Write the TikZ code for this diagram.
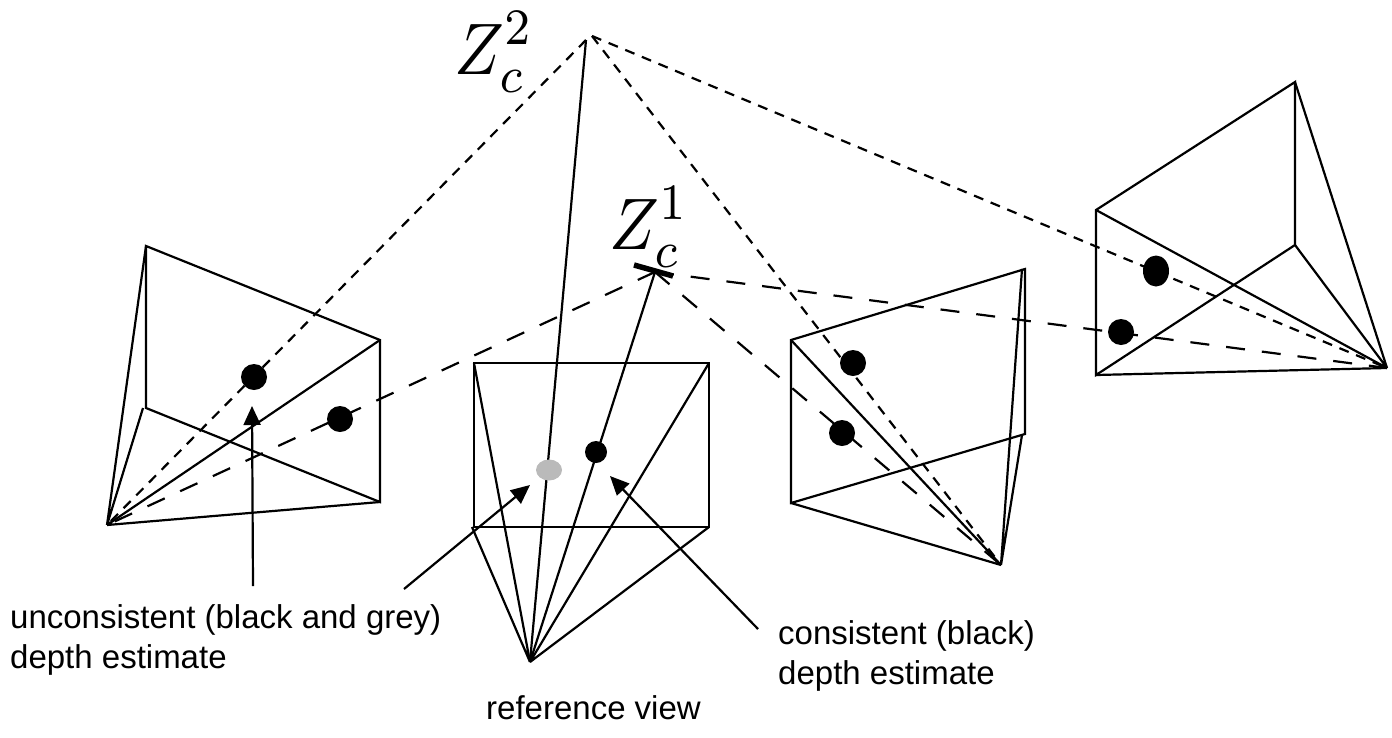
\documentclass[tikz,border=0pt]{standalone}
\usepackage{fontspec}
\setmainfont{Liberation Sans}
\usetikzlibrary{arrows.meta,shapes.geometric}
\tikzset{
  edge/.style={line width=2.2pt},
  raydash/.style={line width=2.2pt, dash pattern=on 10pt off 8pt},
  raylong/.style={line width=2.2pt, dash pattern=on 19pt off 17pt},
  pointer/.style={line width=2.2pt, -{Triangle[length=19pt,width=17pt]}},
  estimate/.style={circle, fill=black, inner sep=0pt, minimum size=26pt},
  depthlabel/.style={xscale=6.6, yscale=7.3, inner sep=0pt},
  caption/.style={font=\fontsize{33}{40.5}\selectfont, align=left, inner sep=0pt}
}
\begin{document}
\begin{tikzpicture}[x=1pt,y=-1pt]
    \useasboundingbox (0,0) rectangle (1392,737);

    % left camera
    \coordinate (la) at (107,525);
    \coordinate (l1) at (146,246);
    \coordinate (l2) at (380,340);
    \coordinate (l3) at (380,502);
    \coordinate (l4) at (146,408);
    \coordinate (l4b) at (143,408);
    \draw[edge] (l1) -- (l2) -- (l3) -- (l4) -- cycle;
    \draw[edge] (la) -- (l1) (la) -- (l2) (la) -- (l3) (la) -- (l4b);

    % reference camera
    \coordinate (ra) at (530,662);
    \coordinate (r1) at (474,363);
    \coordinate (r2) at (709,363);
    \coordinate (r3) at (709,527);
    \coordinate (r4) at (474,527);
    \coordinate (r4b) at (472,527);
    \draw[edge] (r1) -- (r2) -- (r3) -- (r4) -- cycle;
    \draw[edge] (ra) -- (r1) (ra) -- (r2) (ra) -- (r3) (ra) -- (r4b);

    % middle camera
    \coordinate (ma) at (1001,565);
    \coordinate (m1) at (791,340);
    \coordinate (m2) at (1025,269);
    \coordinate (m2b) at (1022,269);
    \coordinate (m3) at (1025,434);
    \coordinate (m3b) at (1022,435);
    \coordinate (m4) at (791,503);
    \draw[edge] (m1) -- (m2) -- (m3) -- (m4) -- cycle;
    \draw[edge] (ma) -- (m1) (ma) -- (m2b) (ma) -- (m3b) (ma) -- (m4);

    % right camera
    \coordinate (fa) at (1387,368);
    \coordinate (f1) at (1096,210);
    \coordinate (f2) at (1295,82);
    \coordinate (f3) at (1295,245);
    \coordinate (f4) at (1096,375);
    \draw[edge] (f1) -- (f2) -- (f3) -- (f4) -- cycle;
    \draw[edge] (fa) -- (f1) (fa) -- (f2) (fa) -- (f3) (fa) -- (f4);

    % depth points
    \coordinate (zb) at (592,36);
    \coordinate (zs) at (586,40);
    \coordinate (za) at (655,272);
    \node[depthlabel] (zbl) at (494,52) {$Z_c^{\raisebox{.6pt}{$\scriptstyle 2$}}$};
    \node[depthlabel] (zal) at (649,227) {$Z_c^{\raisebox{.6pt}{$\scriptstyle 1$}}$};
    \draw[line width=5.5pt] (634,265) -- (673,276);

    % rays
    \draw[raydash] (zs) -- (la);
    \draw[raydash] (zb) -- (ma);
    \draw[raydash] (zb) -- (fa);
    \draw[raylong] (za) -- (la);
    \draw[raylong] (za) -- (ma);
    \draw[raylong] (za) -- (fa);
    \draw[edge] (ra) -- (zs);
    \draw[edge] (ra) -- (za);

    % estimates
    \node[estimate] (l5) at (254,377) {};
    \node[estimate] (l6) at (340,419) {};
    \node[estimate] (m5) at (853,363) {};
    \node[estimate] (m6) at (842,433) {};
    \node[ellipse, fill=black, inner sep=0pt, minimum width=26pt, minimum height=31pt] (f5) at (1156,271) {};
    \node[estimate] (f6) at (1121,332) {};
    \node[circle, fill=black, inner sep=0pt, minimum size=22pt] (r5) at (596,452) {};
    \node[ellipse, fill=black!27, inner sep=0pt, minimum width=26pt, minimum height=21pt] (r6) at (549,470) {};

    % labels
    \node[caption, anchor=north west] (t1) at (10,604) {unconsistent (black and grey)\\depth estimate};
    \node[caption, anchor=north west] (t2) at (778,620) {consistent (black)\\depth estimate};
    \node[caption, anchor=north west] (t3) at (486,695) {reference view};
    \coordinate (p1) at (253,586);
    \coordinate (p2) at (404,589);
    \coordinate (p3) at (758,629);
    \coordinate (q1) at (252,406);
    \coordinate (q2) at (530,485);
    \coordinate (q3) at (610,476);
    \draw[pointer] (p1) -- (q1);
    \draw[pointer] (p2) -- (q2);
    \draw[pointer] (p3) -- (q3);
\end{tikzpicture}
\end{document}
